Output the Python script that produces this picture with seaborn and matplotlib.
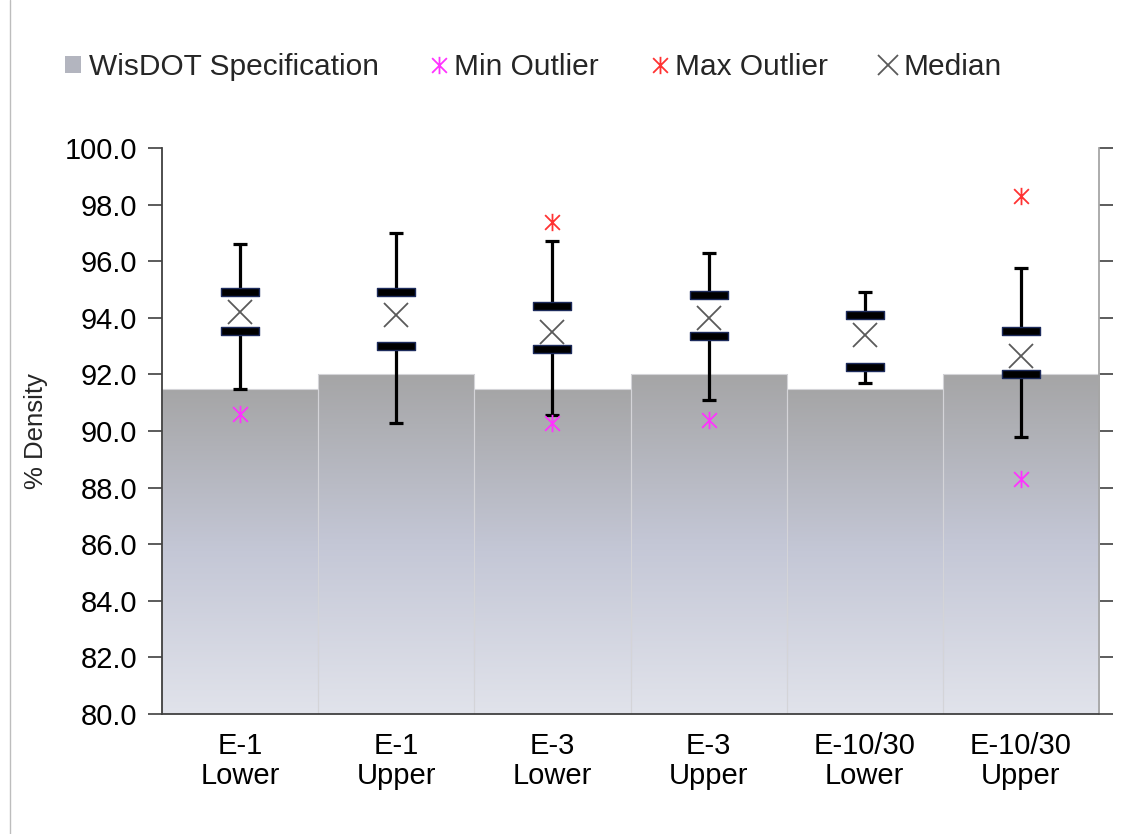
import numpy as np
import pandas as pd
import matplotlib
matplotlib.use("Agg")
import matplotlib.pyplot as plt
from matplotlib.path import Path
from matplotlib.patches import Patch
from matplotlib.lines import Line2D
from matplotlib.colors import LinearSegmentedColormap
import seaborn as sns

# Density results per lift
categories = ["E-1\nLower", "E-1\nUpper", "E-3\nLower", "E-3\nUpper",
              "E-10/30\nLower", "E-10/30\nUpper"]
spec = [91.5, 92.0, 91.5, 92.0, 91.5, 92.0]
whisker_max = [96.6, 97.0, 96.7, 96.3, 94.9, 95.75]
q3 = [94.9, 94.9, 94.4, 94.8, 94.1, 93.55]
median = [94.2, 94.1, 93.5, 94.0, 93.4, 92.65]
q1 = [93.55, 93.0, 92.9, 93.35, 92.25, 92.0]
whisker_min = [91.5, 90.3, 90.55, 91.1, 91.7, 89.8]
min_outlier = [90.6, np.nan, 90.3, 90.4, np.nan, 88.3]
max_outlier = [np.nan, np.nan, 97.4, np.nan, np.nan, 98.3]
yticks = [80, 82, 84, 86, 88, 90, 92, 94, 96, 98, 100]

sns.set_theme(style="white")
plt.rcParams["font.family"] = ["Liberation Sans", "DejaVu Sans"]

df = pd.DataFrame({"group": categories, "spec": spec})

fig = plt.figure(figsize=(11.39, 8.34), dpi=100)
ax = fig.add_axes([162 / 1139, 1 - 714 / 834, (1099 - 162) / 1139, (714 - 148) / 834])

sns.barplot(data=df, x="group", y="spec", width=1.0, color="#b0b2bc",
            edgecolor="#d4d4d8", linewidth=0.8, ax=ax, zorder=1)
ax.set_ylim(80, 100)
ax.set_xlim(-0.5, len(categories) - 0.5)

# vertical gradient inside each specification bar
grad_cmap = LinearSegmentedColormap.from_list(
    "spec_grad", ["#e1e3eb", "#c4c7d6", "#a5a5a6"])
grad = np.linspace(0, 1, 256).reshape(-1, 1)
for patch in ax.patches:
    x0 = patch.get_x()
    w = patch.get_width()
    top = patch.get_y() + patch.get_height()
    im = ax.imshow(grad, cmap=grad_cmap, origin="lower", aspect="auto",
                   extent=[x0, x0 + w, ax.get_ylim()[0], top], zorder=1.5,
                   interpolation="bicubic")
    im.set_clip_path(patch)
    patch.set_facecolor("none")
    patch.set_zorder(1.6)
ax.set_xlim(-0.5, len(categories) - 0.5)
ax.set_ylim(80, 100)

xpos = np.arange(len(categories))

# whiskers with caps
ax.vlines(xpos, q3, whisker_max, color="black", lw=2.3, zorder=3)
ax.vlines(xpos, whisker_min, q1, color="black", lw=2.3, zorder=3)
ax.plot(xpos, whisker_max, ls="none", marker="_", ms=10, mew=2.3, color="black", zorder=3)
ax.plot(xpos, whisker_min, ls="none", marker="_", ms=10, mew=2.3, color="black", zorder=3)

# quartile dashes
dash = Path([(-19, -3.5), (19, -3.5), (19, 3.5), (-19, 3.5), (-19, -3.5)],
            [Path.MOVETO, Path.LINETO, Path.LINETO, Path.LINETO, Path.CLOSEPOLY])
for vals in (q1, q3):
    ax.plot(xpos, vals, ls="none", marker=dash, ms=27.5, mfc="black",
            mec="#1d2b5c", mew=1.0, zorder=4)

# median crosses
ax.plot(xpos, median, ls="none", marker="x", ms=17, mew=1.3, color="#5a5a5a", zorder=5)

# outlier asterisks
star = Path([(0, -1), (0, 1), (-0.85, -0.85), (0.85, 0.85), (-0.85, 0.85), (0.85, -0.85)],
            [Path.MOVETO, Path.LINETO, Path.MOVETO, Path.LINETO, Path.MOVETO, Path.LINETO])
ax.plot(xpos, min_outlier, ls="none", marker=star, ms=12.5, mew=1.3, color="#ff33ff",
        mfc="none", zorder=5)
ax.plot(xpos, max_outlier, ls="none", marker=star, ms=12.5, mew=1.3, color="#ff3333",
        mfc="none", zorder=5)

# axes styling
ax.set_yticks(yticks)
ax.set_yticklabels([f"{v:.1f}" for v in yticks])
ax.set_xticks(xpos)
ax.set_xticklabels(categories, linespacing=1.1)
ax.set_xticks(np.arange(-0.5, len(categories)), minor=True)
ax.tick_params(axis="x", which="major", length=0, pad=13, labelsize=21, colors="black")
ax.tick_params(axis="x", which="minor", length=8, width=1.2, color="#404040", direction="out")
ax.tick_params(axis="y", which="major", left=True, right=True, length=10, width=1.2,
               direction="out", labelsize=21, pad=8, colors="black")
ax.set_xlabel("")
ax.set_ylabel("% Density", fontsize=18.5, labelpad=12)
ax.yaxis.set_tick_params(which="major", color="#404040")

for side in ("left", "bottom"):
    ax.spines[side].set_color("#404040")
    ax.spines[side].set_linewidth(1.3)
ax.spines["right"].set_color("#a6a6a6")
ax.spines["right"].set_linewidth(1.3)
ax.spines["top"].set_visible(False)
for t in ax.yaxis.get_ticklines()[1::2]:
    t.set_color("#a6a6a6")

# legend
handles = [
    Patch(facecolor="#b3b5bf", edgecolor="none"),
    Line2D([], [], ls="none", marker=star, ms=12.5, mew=1.3, color="#ff33ff"),
    Line2D([], [], ls="none", marker=star, ms=12.5, mew=1.3, color="#ff3333"),
    Line2D([], [], ls="none", marker="x", ms=14, mew=1.3, color="#5a5a5a"),
]
labels = ["WisDOT Specification", "Min Outlier", "Max Outlier", "Median"]
fig.legend(handles, labels, loc="center left", bbox_to_anchor=(65 / 1139, 1 - 67 / 834),
           ncol=4, frameon=False, fontsize=21.5, handlelength=0.55, handleheight=0.5,
           handletextpad=0.24, columnspacing=1.75, borderpad=0, borderaxespad=0)

# outer frame edge
fig.add_artist(Line2D([9.5 / 1139, 9.5 / 1139], [0, 1], transform=fig.transFigure,
                      color="#bdbdbd", lw=1.0))

fig.savefig("out.png", dpi=100, facecolor="white")
